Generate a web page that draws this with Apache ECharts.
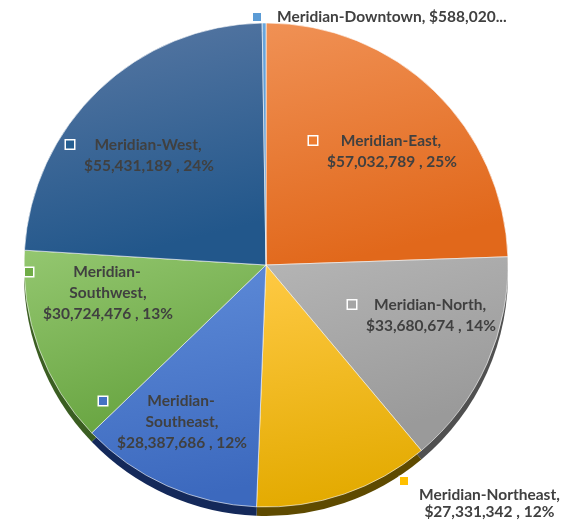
<!DOCTYPE html>
<html>
<head>
<meta charset="utf-8">
<script src="https://cdn.jsdelivr.net/npm/echarts@6/dist/echarts.min.js"></script>
<style>
  html, body { margin: 0; padding: 0; background: #ffffff; }
  #chart { width: 568px; height: 523px; }
</style>
</head>
<body>
<div id="chart"></div>
<script>
// Revenue by region, listed clockwise from 12 o'clock
const regions = ['Meridian-East', 'Meridian-North', 'Meridian-Northeast', 'Meridian-Southeast',
                 'Meridian-Southwest', 'Meridian-West', 'Meridian-Downtown'];
const revenue = [57032789, 33680674, 27331342, 28387686, 30724476, 55431189, 588020];

// Pie geometry (pixels)
const PIE_CX = 266, PIE_CY = 265, PIE_R = 242, DEPTH = 9;

// Slice face gradients (top, bottom), legend-key colours and the darker rim colours
const faceStops = [
  ['#F09155', '#E1681B'],
  ['#B5B5B5', '#9A9A9A'],
  ['#FFCA45', '#E3AA00'],
  ['#5F8CD9', '#3C69BE'],
  ['#94C770', '#6AA643'],
  ['#5A79A4', '#22578B'],
  ['#6AA6DC', '#5190CC']
];
const keyColors = ['#ED7D31', '#A5A5A5', '#FFC000', '#4472C4', '#70AD47', '#255E91', '#5B9BD5'];
const rimColors = ['#7A3A0E', '#505050', '#5E4A00', '#14295A', '#3B5E22', '#14304F', '#2E5680'];

// Names that wrap after the hyphen inside their slice
const wrappedNames = ['Meridian-Southeast', 'Meridian-Southwest'];

// Label anchors, as offsets from the pie centre
const labelSpots = {
  'Meridian-East':      { dx: 117, dy: -114 },
  'Meridian-North':     { dx: 156, dy: 50 },
  'Meridian-Northeast': { dx: 134, dy: 211, align: 'left', verticalAlign: 'top' },
  'Meridian-Southeast': { dx: -93, dy: 157 },
  'Meridian-Southwest': { dx: -167, dy: 28 },
  'Meridian-West':      { dx: -126, dy: -110 },
  'Meridian-Downtown':  { dx: -13, dy: -248, align: 'left' }
};

const FONT_SIZE = 15.5;

const money = v => '$' + v.toLocaleString('en-US');

function labelText(p) {
  const i = p.dataIndex;
  const name = regions[i];
  const k = '{k' + i + '|}';
  if (name === 'Meridian-Downtown') {
    return k + '{gapWide|}{t|' + name + ', ' + money(revenue[i]) + '...}';
  }
  const valueLine = money(revenue[i]) + ' , ' + p.percent + '%';
  if (name === 'Meridian-Northeast') {
    return k + '\n{padWide|}{ts|' + name + ',}\n{padWide|}{ts|' + valueLine + '}';
  }
  const nameLines = wrappedNames.includes(name)
    ? [name.slice(0, name.indexOf('-') + 1), name.slice(name.indexOf('-') + 1) + ',']
    : [name + ','];
  const lines = nameLines.concat([valueLine]);
  return lines.map((l, j) => (j === 0 ? k + '{gap|}' : '{pad|}') + '{t|' + l + '}').join('\n');
}

const textStyle = {
  fontFamily: 'Lato', fontSize: FONT_SIZE, fontWeight: 'bold', color: '#404040', align: 'center'
};
const rich = {
  t: Object.assign({ lineHeight: 21 }, textStyle),
  ts: Object.assign({ lineHeight: 17 }, textStyle),
  gap: { width: 8, align: 'left', lineHeight: 21 },
  gapWide: { width: 16, align: 'left', lineHeight: 21 },
  pad: { width: 18, align: 'left', lineHeight: 21 },
  padWide: { width: 19, align: 'left', lineHeight: 17 }
};
keyColors.forEach((c, i) => {
  const outside = regions[i] === 'Meridian-Northeast' || regions[i] === 'Meridian-Downtown';
  rich['k' + i] = {
    width: 8, height: 8, align: 'left',
    lineHeight: regions[i] === 'Meridian-Northeast' ? 10 : 21,
    backgroundColor: c,
    borderColor: outside ? 'rgba(255,255,255,0.5)' : '#ffffff',
    borderWidth: 1.5
  };
});

const faceData = regions.map((name, i) => ({
  name: name,
  value: revenue[i],
  itemStyle: {
    color: {
      type: 'linear', x: 0, y: 0, x2: 0.25, y2: 1,
      colorStops: [{ offset: 0, color: faceStops[i][0] }, { offset: 1, color: faceStops[i][1] }]
    }
  }
}));

const rimData = regions.map((name, i) => ({
  name: name,
  value: revenue[i],
  itemStyle: { color: rimColors[i] }
}));

const chart = echarts.init(document.getElementById('chart'), null, { renderer: 'canvas' });
chart.setOption({
  animation: false,
  backgroundColor: '#ffffff',
  series: [
    {
      // rim of the tilted disc, showing below the face
      type: 'pie',
      silent: true,
      z: 1,
      center: [PIE_CX, PIE_CY + DEPTH],
      radius: PIE_R,
      startAngle: 90,
      clockwise: true,
      label: { show: false },
      labelLine: { show: false },
      itemStyle: { borderWidth: 0 },
      data: rimData
    },
    {
      type: 'pie',
      z: 2,
      center: [PIE_CX, PIE_CY],
      radius: PIE_R,
      startAngle: 90,
      clockwise: true,
      percentPrecision: 0,
      avoidLabelOverlap: false,
      itemStyle: { borderColor: 'rgba(255,255,255,0.6)', borderWidth: 1 },
      label: {
        show: true,
        position: 'inside',
        formatter: labelText,
        rich: rich,
        fontFamily: 'Lato', fontSize: FONT_SIZE, fontWeight: 'bold', color: '#404040',
        lineHeight: 21
      },
      labelLine: { show: false },
      labelLayout: function (params) {
        const spot = labelSpots[regions[params.dataIndex]];
        return {
          x: PIE_CX + spot.dx,
          y: PIE_CY + spot.dy,
          align: spot.align || 'center',
          verticalAlign: spot.verticalAlign || 'middle'
        };
      },
      emphasis: { scale: false },
      data: faceData
    }
  ]
});
</script>
</body>
</html>
